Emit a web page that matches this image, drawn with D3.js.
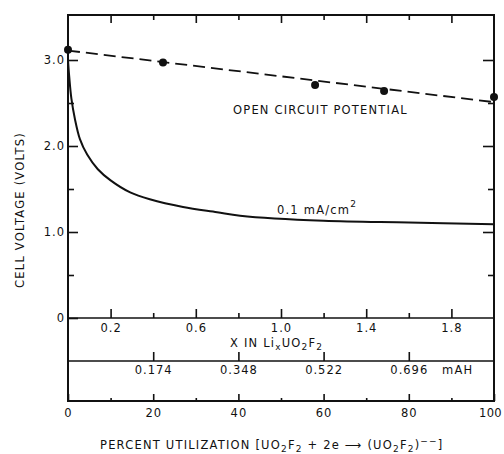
<!DOCTYPE html>
<html>
<head>
<meta charset="utf-8">
<script src="https://cdn.jsdelivr.net/npm/d3@7"></script>
<style>
  body { margin: 0; background: #fff; }
  svg text { font-family: "DejaVu Sans", sans-serif; font-size: 11.5px; letter-spacing: 1.2px; fill: #111; }
  .axis path, .axis line { stroke: #111; stroke-width: 1.6px; }
  .axis text { font-family: "DejaVu Sans", sans-serif; font-size: 11.5px; letter-spacing: 1px; fill: #111; }
</style>
</head>
<body>
<script>
"use strict";
// open circuit points, percent utilization vs volts
const ocvPct = [0, 22.3, 58, 74.2, 100];
const ocvVolt = [3.12, 2.97, 2.71, 2.64, 2.57];
// dashed fit through the open circuit points
const ocvFitPct = [0, 100];
const ocvFitVolt = [3.11, 2.51];
// discharge at 0.1 mA/cm2
const curvePct = [0, 0.3, 0.8, 1.6, 2.8, 4.5, 7, 10, 14.6, 19.2, 27, 35, 40.4, 60, 80, 100];
const curveVolt = [3.0, 2.8, 2.55, 2.32, 2.08, 1.9, 1.73, 1.6, 1.46, 1.38, 1.29, 1.23, 1.19, 1.13, 1.11, 1.09];

const pctMajor = [0, 20, 40, 60, 80, 100];
const pctMinor = [10, 30, 50, 70, 90];
const voltMajor = [0, 1, 2, 3];
const voltMinor = [0.5, 1.5, 2.5];
const liMajor = [0.2, 0.6, 1.0, 1.4, 1.8];
const liMinor = [0.4, 0.8, 1.2, 1.6];
const mahPct = [20, 40, 60, 80];
const mahLabels = ["0.174", "0.348", "0.522", "0.696"];

const m = { left: 68, right: 494, top: 15, zero: 318, mah: 361, bottom: 401 };

const svg = d3.select("body").append("svg")
    .attr("width", 504)
    .attr("height", 454);

const x = d3.scaleLinear().domain([0, 100]).range([m.left, m.right]);
const xLi = d3.scaleLinear().domain([0, 2]).range([m.left, m.right]);
const y = d3.scaleLinear().domain([0, 3]).range([m.zero, 60]);

function noDomain(g) { g.select(".domain").remove(); }

// frame
svg.append("rect")
    .attr("x", m.left).attr("y", m.top)
    .attr("width", m.right - m.left).attr("height", m.bottom - m.top)
    .attr("fill", "none").attr("stroke", "#111").attr("stroke-width", 2);

// left axis
svg.append("g").attr("class", "axis")
    .attr("transform", `translate(${m.left},0)`)
    .call(d3.axisLeft(y).tickValues(voltMajor).tickSize(-10).tickPadding(3)
        .tickFormat(d => d === 0 ? "0" : d3.format(".1f")(d)))
    .call(noDomain);
svg.append("g").attr("class", "axis")
    .attr("transform", `translate(${m.left},0)`)
    .call(d3.axisLeft(y).tickValues(voltMinor).tickSize(-6).tickFormat(""))
    .call(noDomain);

// right axis
svg.append("g").attr("class", "axis")
    .attr("transform", `translate(${m.right},0)`)
    .call(d3.axisRight(y).tickValues(voltMajor.filter(d => d > 0)).tickSize(-11).tickFormat(""))
    .call(noDomain);
svg.append("g").attr("class", "axis")
    .attr("transform", `translate(${m.right},0)`)
    .call(d3.axisRight(y).tickValues(voltMinor).tickSize(-6).tickFormat(""))
    .call(noDomain);

// top axis
svg.append("g").attr("class", "axis")
    .attr("transform", `translate(0,${m.top})`)
    .call(d3.axisTop(xLi).tickValues(liMajor).tickSize(-8).tickFormat(""))
    .call(noDomain);
svg.append("g").attr("class", "axis")
    .attr("transform", `translate(0,${m.top})`)
    .call(d3.axisTop(xLi).tickValues(liMinor).tickSize(-5).tickFormat(""))
    .call(noDomain);

// x in LixUO2F2 axis
svg.append("g").attr("class", "axis")
    .attr("transform", `translate(0,${m.zero})`)
    .call(d3.axisBottom(xLi).tickValues(liMajor).tickSize(-9).tickPadding(6)
        .tickFormat(d3.format(".1f")))
    .call(g => g.select(".domain").attr("d", `M${m.left},0H${m.right}`));
svg.append("g").attr("class", "axis")
    .attr("transform", `translate(0,${m.zero})`)
    .call(d3.axisBottom(xLi).tickValues(liMinor).tickSize(-5).tickFormat(""))
    .call(noDomain);

// mAH axis
svg.append("g").attr("class", "axis")
    .attr("transform", `translate(0,${m.mah})`)
    .call(d3.axisBottom(x).tickValues(mahPct).tickSize(-9).tickPadding(5)
        .tickFormat((d, i) => mahLabels[i]))
    .call(g => g.select(".domain").attr("d", `M${m.left},0H${m.right}`));

// percent axis
svg.append("g").attr("class", "axis")
    .attr("transform", `translate(0,${m.bottom})`)
    .call(d3.axisBottom(x).tickValues(pctMajor).tickSize(-7).tickPadding(8)
        .tickFormat(d3.format("d")))
    .call(noDomain)
    .call(g => g.selectAll(".tick text").filter(d => d === 100)
        .attr("dx", -4).style("letter-spacing", "0.4px"));
svg.append("g").attr("class", "axis")
    .attr("transform", `translate(0,${m.bottom})`)
    .call(d3.axisBottom(x).tickValues(pctMinor).tickSize(-3).tickFormat(""))
    .call(noDomain);

// dashed open circuit line
const line = d3.line().x(d => x(d[0])).y(d => y(d[1]));
svg.append("path")
    .datum(ocvFitPct.map((p, i) => [p, ocvFitVolt[i]]))
    .attr("d", line)
    .attr("fill", "none").attr("stroke", "#111").attr("stroke-width", 1.8)
    .attr("stroke-dasharray", "12,6");

svg.selectAll("circle.ocv")
    .data(ocvPct.map((p, i) => [p, ocvVolt[i]]))
    .enter().append("circle")
    .attr("class", "ocv")
    .attr("cx", d => x(d[0]))
    .attr("cy", d => y(d[1]))
    .attr("r", 4)
    .attr("fill", "#111");

// discharge curve
svg.append("path")
    .datum(curvePct.map((p, i) => [p, curveVolt[i]]))
    .attr("d", line.curve(d3.curveCatmullRom.alpha(0.5)))
    .attr("fill", "none").attr("stroke", "#111").attr("stroke-width", 2);

// labels
svg.append("text").attr("x", 233).attr("y", 114).text("OPEN CIRCUIT POTENTIAL");

const cd = svg.append("text").attr("x", 277).attr("y", 214);
cd.append("tspan").text("0.1 mA/cm");
cd.append("tspan").attr("dy", -7).style("font-size", "9px").text("2");

svg.append("text").attr("x", 442).attr("y", 374).text("mAH");

const xl = svg.append("text").attr("x", 230).attr("y", 347);
xl.append("tspan").text("X IN Li");
xl.append("tspan").attr("dy", 3).style("font-size", "9px").text("x");
xl.append("tspan").attr("dy", -3).text("UO");
xl.append("tspan").attr("dy", 3).style("font-size", "9px").text("2");
xl.append("tspan").attr("dy", -3).text("F");
xl.append("tspan").attr("dy", 3).style("font-size", "9px").text("2");

svg.append("text")
    .attr("transform", "translate(24,210)rotate(-90)")
    .attr("text-anchor", "middle")
    .text("CELL VOLTAGE (VOLTS)");

const bt = svg.append("text").attr("x", 100).attr("y", 449);
bt.append("tspan").text("PERCENT UTILIZATION [UO");
bt.append("tspan").attr("dy", 3).style("font-size", "9px").text("2");
bt.append("tspan").attr("dy", -3).text("F");
bt.append("tspan").attr("dy", 3).style("font-size", "9px").text("2");
bt.append("tspan").attr("dy", -3).text(" + 2e \u27F6 (UO");
bt.append("tspan").attr("dy", 3).style("font-size", "9px").text("2");
bt.append("tspan").attr("dy", -3).text("F");
bt.append("tspan").attr("dy", 3).style("font-size", "9px").text("2");
bt.append("tspan").attr("dy", -3).text(")");
bt.append("tspan").attr("dy", -5).style("font-size", "9px").text("\u2212\u2212");
bt.append("tspan").attr("dy", 5).text("]");
</script>
</body>
</html>
